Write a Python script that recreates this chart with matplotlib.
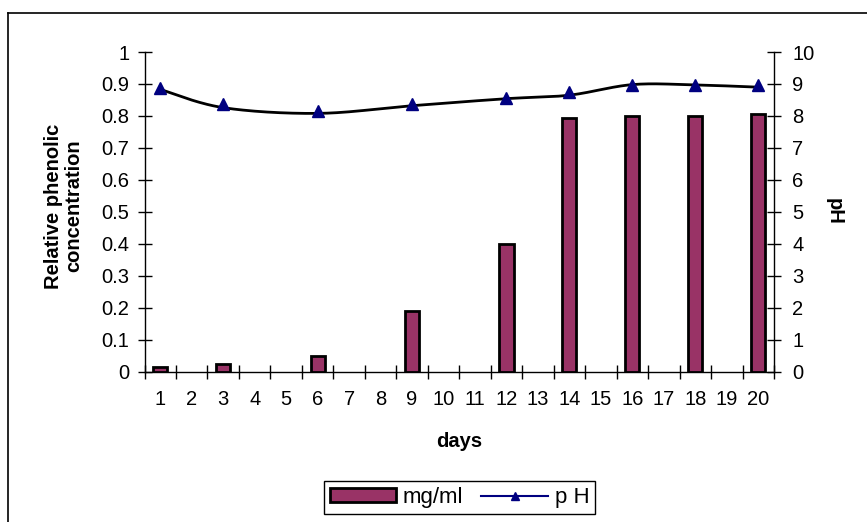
import numpy as np
import matplotlib
matplotlib.use("Agg")
import matplotlib.pyplot as plt
from matplotlib.lines import Line2D
from matplotlib.patches import Patch

plt.rcParams['font.family'] = ['Liberation Sans', 'DejaVu Sans']

# categories on the x axis (one slot per day)
day_labels = [str(d) for d in range(1, 21)]
# days that were actually sampled
days = [1, 3, 6, 9, 12, 14, 16, 18, 20]
conc = [0.015, 0.025, 0.048, 0.19, 0.40, 0.795, 0.80, 0.80, 0.805]   # mg/ml
ph_points = [8.87, 8.36, 8.16, 8.37, 8.57, 8.76, 8.97, 8.97, 8.97]  # triangle markers
ph_curve = [8.83, 8.26, 8.08, 8.32, 8.54, 8.65, 8.98, 8.97, 8.90]   # smoothed line

BAR_COLOR = "#993366"
NAVY = "#000080"


def smooth(xs, ys, n=40):
    # Excel-like bezier smoothing through the points
    xs = np.asarray(xs, float)
    ys = np.asarray(ys, float)
    px = np.concatenate([[xs[0]], xs, [xs[-1]]])
    py = np.concatenate([[ys[0]], ys, [ys[-1]]])
    out_x, out_y = [], []
    t = np.linspace(0, 1, n)
    for i in range(1, len(px) - 2):
        p0 = np.array([px[i], py[i]])
        p3 = np.array([px[i + 1], py[i + 1]])
        c1 = p0 + (p3 - np.array([px[i - 1], py[i - 1]])) / 6
        c2 = p3 - (np.array([px[i + 2], py[i + 2]]) - p0) / 6
        b = ((1 - t) ** 3)[:, None] * p0 + (3 * (1 - t) ** 2 * t)[:, None] * c1 \
            + (3 * (1 - t) * t ** 2)[:, None] * c2 + (t ** 3)[:, None] * p3
        out_x.extend(b[:, 0])
        out_y.extend(b[:, 1])
    return out_x, out_y


fig = plt.figure(figsize=(8.67, 5.22), dpi=100)
ax = fig.add_axes([144.5 / 867, 1 - 371.7 / 522, (774 - 144.5) / 867, (371.7 - 52) / 522])

ax.bar(days, conc, width=0.45, color=BAR_COLOR, edgecolor="black", linewidth=2, zorder=3)
ax.set_xlim(0.5, 20.5)
ax.set_ylim(0, 1)
ax.set_yticks(np.arange(0, 1.01, 0.1))
ax.set_yticklabels(["0"] + [f"{v:.1f}" for v in np.arange(0.1, 0.95, 0.1)] + ["1"])
ax.set_xticks(range(1, 21))
ax.set_xticklabels(day_labels)
ax.set_xticks(np.arange(0.5, 20.6, 1), minor=True)
ax.tick_params(axis="x", which="major", length=0, pad=13, labelsize=14.5)
ax.tick_params(axis="x", which="minor", direction="inout", length=10, width=1)
ax.tick_params(axis="y", direction="inout", length=10, width=1, pad=6, labelsize=14.5)
ax.spines["top"].set_visible(False)
ax.spines["right"].set_visible(False)
for s in ["left", "bottom"]:
    ax.spines[s].set_linewidth(1)

ax.set_xlabel("days", fontsize=14.5, fontweight="bold")
ax.xaxis.set_label_coords(0.5, -0.19)
ax.set_ylabel("Relative phenolic\nconcentration", fontsize=14.5, fontweight="bold", linespacing=1.05)
ax.yaxis.set_label_coords(-0.098, 0.518)

ax2 = ax.twinx()
ax2.set_ylim(0, 10)
ax2.set_yticks(range(0, 11))
ax2.tick_params(axis="y", direction="inout", length=10, width=1, pad=8, labelsize=14.5)
for s in ["top", "left", "bottom"]:
    ax2.spines[s].set_visible(False)
ax2.spines["right"].set_linewidth(1)
cx, cy = smooth(days, ph_curve)
ax2.plot(cx, cy, color="black", linewidth=2, zorder=4)
ax2.plot(days, ph_points, linestyle="none", marker="^", markersize=8, color=NAVY, zorder=5)
ax2.set_ylabel("pH", fontsize=14.5, fontweight="bold", rotation=-90, va="center")
ax2.yaxis.set_label_coords(1.096, 0.501)

handles = [Patch(facecolor=BAR_COLOR, edgecolor="black", linewidth=2),
           Line2D([], [], color=NAVY, marker="^", markersize=6, linewidth=1.5)]
fig.legend(handles, ["mg/ml", "p H"], loc="center", bbox_to_anchor=(459.5 / 867, 1 - 497.5 / 522),
           ncol=2, fontsize=16, frameon=True, fancybox=False, edgecolor="black", framealpha=1,
           handlelength=3.0, handleheight=0.6, columnspacing=0.8, handletextpad=0.3,
           borderpad=0.25)

# chart area border (cropped on right and bottom)
fig.add_artist(Line2D([8 / 867, 1.0], [1 - 12.7 / 522] * 2, color="black", linewidth=1.2))
fig.add_artist(Line2D([8 / 867] * 2, [0, 1 - 12.7 / 522], color="black", linewidth=1.2))

fig.savefig("out.png", dpi=100)
